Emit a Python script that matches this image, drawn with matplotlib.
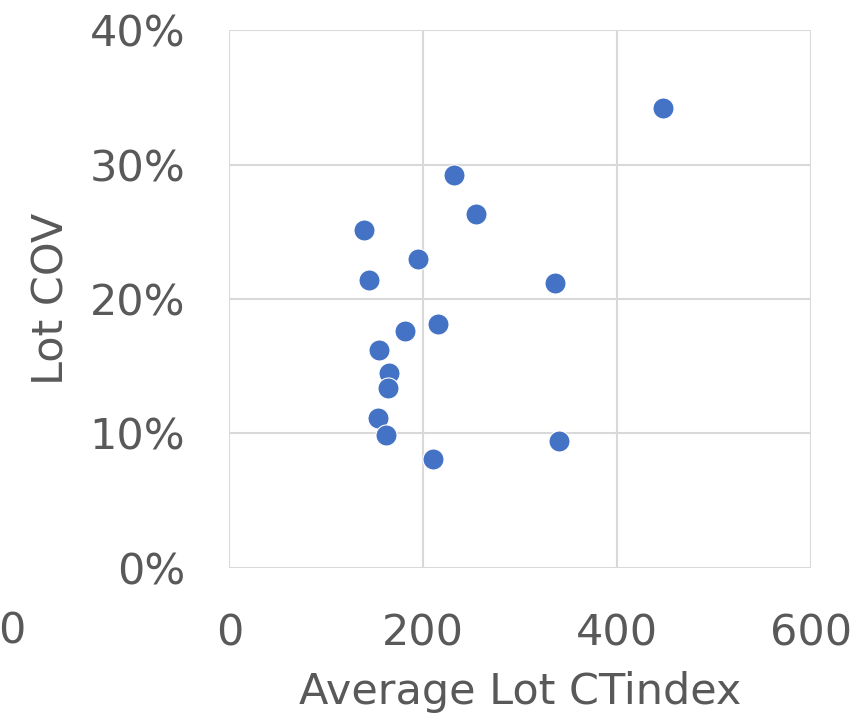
import matplotlib
matplotlib.use("Agg")
import matplotlib.pyplot as plt
from matplotlib.ticker import FuncFormatter

# average lot CT index vs lot COV (%)
ct_index = [447, 232, 254, 139, 195, 144, 336, 215, 181, 154, 165, 164, 153, 161, 340, 210]
lot_cov = [34.2, 29.2, 26.3, 25.1, 23.0, 21.4, 21.2, 18.1, 17.6, 16.2, 14.5, 13.4, 11.1, 9.9, 9.4, 8.1]

x_ticks = [0, 200, 400, 600]
y_ticks = [0, 10, 20, 30, 40]

grey = "#595959"
plt.rcParams['font.family'] = ['DejaVu Sans']

fig = plt.figure(figsize=(8.67, 7.22), dpi=100)
ax = fig.add_axes([0.2647, 0.2139, 0.6707, 0.7441])

ax.scatter(ct_index, lot_cov, s=230, color="#4472C4", edgecolor="white", linewidth=0.8, zorder=3)

ax.set_xlim(0, 600)
ax.set_ylim(0, 40)
ax.set_xticks(x_ticks)
ax.set_yticks(y_ticks)
ax.yaxis.set_major_formatter(FuncFormatter(lambda v, p: f"{v:.0f}%"))
ax.grid(True, color="#d9d9d9", linewidth=1.5)
ax.set_axisbelow(True)
for s in ax.spines.values():
    s.set_visible(False)
ax.tick_params(length=0, labelsize=31, colors=grey, pad=32)

ax.set_xlabel("Average Lot CTindex", fontsize=31, color=grey, labelpad=12)
ax.set_ylabel("Lot COV", fontsize=31, color=grey, labelpad=12)

# stray label clipped at the left edge
fig.text(12 / 867, 1 - 631 / 722, "0", fontsize=31, color=grey, ha="center", va="center")

fig.savefig("out.png", dpi=100)
